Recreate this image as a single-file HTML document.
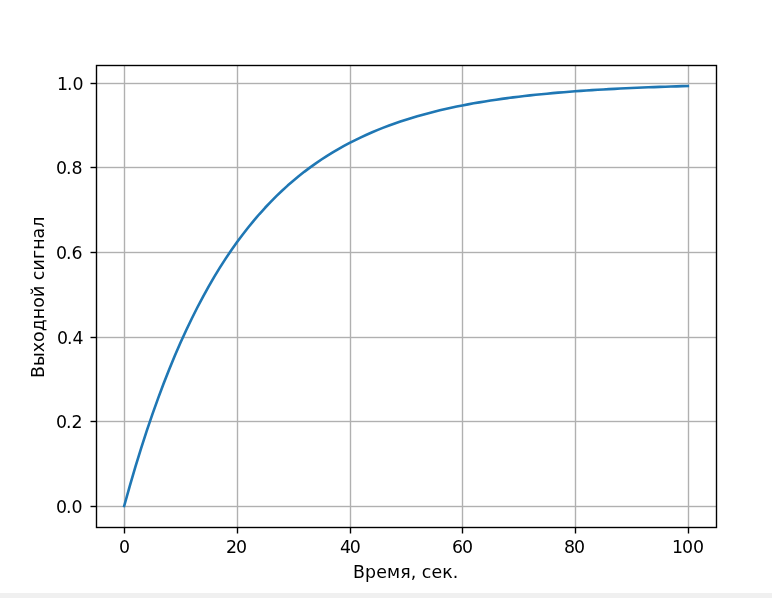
<!DOCTYPE html>
<html lang="ru"><head><meta charset="utf-8"><title>Выходной сигнал</title>
<style>
html,body{margin:0;padding:0;background:#fff;}
body{width:772px;height:598px;overflow:hidden;position:relative;}
#fig{position:absolute;left:0;top:0;width:772px;height:593px;background:#fff;}
#bar{position:absolute;left:0;top:593px;width:772px;height:5px;background:#f0f0f0;}
svg{display:block}
text{font-family:"DejaVu Sans","Liberation Sans",sans-serif;font-size:17.36px;fill:#000;font-kerning:none;}
</style></head><body>
<div id="fig">
<svg width="772" height="593" viewBox="0 0 772 593">

<g stroke="#b0b0b0" stroke-width="1.39" fill="none">
<line x1="124.5" y1="65.5" x2="124.5" y2="527.5"/>
<line x1="237.5" y1="65.5" x2="237.5" y2="527.5"/>
<line x1="350.5" y1="65.5" x2="350.5" y2="527.5"/>
<line x1="462.5" y1="65.5" x2="462.5" y2="527.5"/>
<line x1="575.5" y1="65.5" x2="575.5" y2="527.5"/>
<line x1="688.5" y1="65.5" x2="688.5" y2="527.5"/>
<rect x="96.5" y="505.805" width="620.0" height="1.39" fill="#b0b0b0" stroke="none"/>
<rect x="96.5" y="420.805" width="620.0" height="1.39" fill="#b0b0b0" stroke="none"/>
<rect x="96.5" y="336.805" width="620.0" height="1.39" fill="#b0b0b0" stroke="none"/>
<rect x="96.5" y="251.805" width="620.0" height="1.39" fill="#b0b0b0" stroke="none"/>
<rect x="96.5" y="166.805" width="620.0" height="1.39" fill="#b0b0b0" stroke="none"/>
<rect x="96.5" y="82.805" width="620.0" height="1.39" fill="#b0b0b0" stroke="none"/>
</g>
<g stroke="#000" stroke-width="1.39" fill="none">
<line x1="124.5" y1="527.5" x2="124.5" y2="533.50"/>
<line x1="237.5" y1="527.5" x2="237.5" y2="533.50"/>
<line x1="350.5" y1="527.5" x2="350.5" y2="533.50"/>
<line x1="462.5" y1="527.5" x2="462.5" y2="533.50"/>
<line x1="575.5" y1="527.5" x2="575.5" y2="533.50"/>
<line x1="688.5" y1="527.5" x2="688.5" y2="533.50"/>
<line x1="90.50" y1="506.5" x2="96.5" y2="506.5"/>
<line x1="90.50" y1="421.5" x2="96.5" y2="421.5"/>
<line x1="90.50" y1="337.5" x2="96.5" y2="337.5"/>
<line x1="90.50" y1="252.5" x2="96.5" y2="252.5"/>
<line x1="90.50" y1="167.5" x2="96.5" y2="167.5"/>
<line x1="90.50" y1="83.5" x2="96.5" y2="83.5"/>
</g>
<clipPath id="c"><rect x="96.0" y="65.0" width="620.0" height="462.0"/></clipPath>
<polyline clip-path="url(#c)" points="124.18,506.00 129.82,485.85 135.45,466.65 141.09,448.37 146.73,430.96 152.36,414.38 158.00,398.59 163.64,383.56 169.27,369.23 174.91,355.59 180.55,342.60 186.18,330.23 191.82,318.45 197.45,307.22 203.09,296.54 208.73,286.36 214.36,276.66 220.00,267.43 225.64,258.64 231.27,250.26 236.91,242.29 242.55,234.69 248.18,227.46 253.82,220.57 259.45,214.01 265.09,207.76 270.73,201.81 276.36,196.14 282.00,190.74 287.64,185.60 293.27,180.70 298.91,176.04 304.55,171.60 310.18,167.37 315.82,163.34 321.45,159.51 327.09,155.85 332.73,152.37 338.36,149.06 344.00,145.90 349.64,142.90 355.27,140.04 360.91,137.31 366.55,134.71 372.18,132.24 377.82,129.88 383.45,127.64 389.09,125.51 394.73,123.47 400.36,121.53 406.00,119.69 411.64,117.93 417.27,116.26 422.91,114.66 428.55,113.14 434.18,111.70 439.82,110.32 445.45,109.01 451.09,107.76 456.73,106.57 462.36,105.44 468.00,104.36 473.64,103.33 479.27,102.35 484.91,101.42 490.55,100.53 496.18,99.69 501.82,98.88 507.45,98.12 513.09,97.39 518.73,96.69 524.36,96.03 530.00,95.40 535.64,94.80 541.27,94.23 546.91,93.68 552.55,93.16 558.18,92.67 563.82,92.20 569.45,91.75 575.09,91.32 580.73,90.91 586.36,90.53 592.00,90.16 597.64,89.81 603.27,89.47 608.91,89.15 614.55,88.85 620.18,88.56 625.82,88.29 631.45,88.02 637.09,87.77 642.73,87.54 648.36,87.31 654.00,87.09 659.64,86.89 665.27,86.69 670.91,86.51 676.55,86.33 682.18,86.16 687.82,86.00" fill="none" stroke="#1f77b4" stroke-width="2.604" stroke-linecap="square" stroke-linejoin="round"/>
<rect x="96.5" y="65.5" width="620.0" height="462.0" fill="none" stroke="#000" stroke-width="1.39" stroke-linejoin="miter"/>
<text x="119.07" y="552.85">0</text>
<text x="225.89 236.05" y="552.85">20</text>
<text x="339.98 349.75" y="552.85">40</text>
<text x="452.03 462.03" y="552.85">60</text>
<text x="563.88 574.01" y="552.85">80</text>
<text x="672.08 681.96 693.00" y="552.85">100</text>
<text x="55.89 66.07 71.49" y="512.83">0.0</text>
<text x="55.89 66.07 71.47" y="428.19">0.2</text>
<text x="56.89 67.07 72.50" y="343.54">0.4</text>
<text x="55.89 66.07 71.49" y="258.90">0.6</text>
<text x="55.89 66.07 71.49" y="174.26">0.8</text>
<text x="57.06 67.07 72.49" y="89.61">1.0</text>
<text x="353.07 364.90 376.26 386.99 400.29 410.68 416.76 421.79 431.52 442.19 452.69" y="578.40">Время, сек.</text>
<text transform="rotate(-90)" x="-378.12 -366.08 -352.28 -341.96 -331.18 -319.22 -307.72 -297.05 -285.09 -280.29 -270.59 -258.99 -249.69 -238.52 -227.73" y="44.00">Выходной сигнал</text>
</svg></div><div id="bar"></div></body></html>
